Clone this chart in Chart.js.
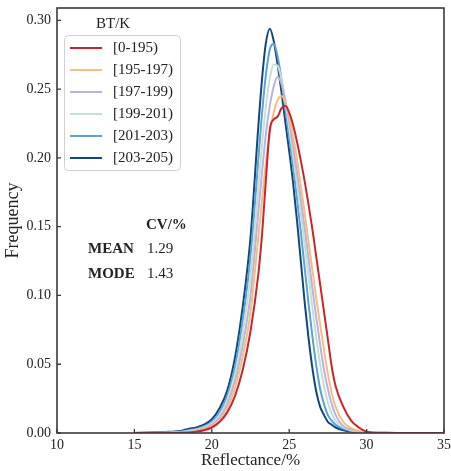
<!DOCTYPE html>
<html><head><meta charset="utf-8">
<script src="https://cdn.jsdelivr.net/npm/chart.js@4"></script>
<style>html,body{margin:0;padding:0;background:#fff}#wrap{width:451px;height:471px}</style>
</head><body><div id="wrap"><canvas id="c" width="451" height="471"></canvas></div>
<script>
const reflectance = [15,16,17,17.5,18,18.5,19,19.5,20,20.5,21,21.5,22,22.5,23,23.25,23.5,23.75,24,24.25,24.5,24.75,25,25.25,25.5,25.75,26,26.25,26.5,26.75,27,27.25,27.5,27.75,28,28.5,29,29.5,30,31,32,33,35];
const seriesLabels = ['[0-195)','[195-197)','[197-199)','[199-201)','[201-203)','[203-205)'];
const freq_0_195   = [0,0,0,0,0.0001,0.0004,0.001,0.002,0.004,0.008,0.015,0.027,0.046,0.074,0.115,0.145,0.185,0.221,0.228,0.230,0.236,0.238,0.233,0.224,0.212,0.198,0.183,0.166,0.148,0.128,0.108,0.088,0.068,0.048,0.034,0.019,0.009,0.004,0.001,0,0,0,0];
const freq_195_197 = [0,0,0,0.0001,0.0003,0.0008,0.0015,0.003,0.005,0.009,0.018,0.033,0.056,0.088,0.142,0.170,0.197,0.218,0.233,0.242,0.245,0.240,0.230,0.216,0.199,0.180,0.160,0.139,0.118,0.098,0.079,0.060,0.043,0.029,0.019,0.008,0.0035,0.0015,0.0007,0.0001,0,0,0];
const freq_197_199 = [0,0,0.0001,0.0002,0.0005,0.001,0.002,0.0035,0.006,0.011,0.021,0.038,0.064,0.100,0.160,0.190,0.218,0.238,0.252,0.259,0.254,0.242,0.227,0.209,0.190,0.170,0.149,0.127,0.105,0.084,0.064,0.046,0.032,0.021,0.013,0.005,0.0025,0.0012,0.0006,0.0001,0,0,0];
const freq_199_201 = [0,0,0.0002,0.0003,0.0007,0.0015,0.0025,0.004,0.007,0.013,0.024,0.043,0.073,0.115,0.178,0.210,0.238,0.258,0.268,0.267,0.257,0.241,0.222,0.202,0.182,0.160,0.137,0.114,0.091,0.069,0.050,0.034,0.022,0.014,0.009,0.004,0.002,0.001,0.0005,0.0001,0,0,0];
const freq_201_203 = [0,0,0.0003,0.0005,0.001,0.002,0.003,0.005,0.008,0.015,0.027,0.048,0.082,0.128,0.198,0.233,0.261,0.279,0.283,0.274,0.257,0.236,0.215,0.194,0.171,0.146,0.120,0.094,0.070,0.049,0.032,0.021,0.013,0.009,0.006,0.003,0.0015,0.0008,0.0004,0.0001,0,0,0];
const freq_203_205 = [0,0.0003,0.0008,0.001,0.0015,0.003,0.004,0.006,0.010,0.018,0.031,0.055,0.092,0.142,0.222,0.258,0.284,0.294,0.285,0.268,0.248,0.226,0.205,0.182,0.155,0.125,0.095,0.069,0.047,0.030,0.019,0.013,0.008,0.006,0.004,0.002,0.001,0.0006,0.0003,0.0001,0,0,0];
const seriesColors = ['#c8262f','#f5bd86','#bab4db','#c6dfd6','#5aa3d1','#12467f'];
const xTicks = [10,15,20,25,30,35];
const yTicks = [0,0.05,0.10,0.15,0.20,0.25,0.30];
const statHeader = 'CV/%';
const statNames = ['MEAN','MODE'];
const statValues = ['1.29','1.43'];

const allSeries = [freq_0_195,freq_195_197,freq_197_199,freq_199_201,freq_201_203,freq_203_205];
const SERIF = '"Liberation Serif","DejaVu Serif",serif';

const framePlugin = {
  id:'frame',
  afterDatasetsDraw(chart){
    const {ctx, chartArea:a, scales} = chart;
    ctx.save();
    ctx.strokeStyle = '#3a3a3a'; ctx.lineWidth = 1.3;
    ctx.beginPath();
    scales.x.ticks.forEach(t=>{const px=scales.x.getPixelForValue(t.value); ctx.moveTo(px,a.bottom); ctx.lineTo(px,a.bottom-4);});
    scales.y.ticks.forEach(t=>{const py=scales.y.getPixelForValue(t.value); ctx.moveTo(a.left,py); ctx.lineTo(a.left+4,py);});
    ctx.stroke();
    ctx.lineWidth = 1.6;
    ctx.strokeRect(a.left, a.top, a.right-a.left, a.bottom-a.top);
    const lx=64, ly=35, lw=116, lh=135;
    ctx.fillStyle='rgba(255,255,255,0.85)'; ctx.strokeStyle='#d0d0d0'; ctx.lineWidth=1;
    ctx.beginPath(); ctx.roundRect(lx+0.5,ly+0.5,lw,lh,4); ctx.fill(); ctx.stroke();
    ctx.fillStyle='#222'; ctx.font='15px '+SERIF; ctx.textBaseline='middle'; ctx.textAlign='left';
    ctx.fillText('BT/K', 96, 24);
    chart.data.datasets.forEach((ds,i)=>{
      const y = 48 + i*22;
      ctx.strokeStyle = ds.borderColor; ctx.lineWidth = 2;
      ctx.beginPath(); ctx.moveTo(70,y); ctx.lineTo(102,y); ctx.stroke();
      ctx.fillStyle='#222'; ctx.fillText(ds.label, 113, y);
    });
    ctx.font='bold 15px '+SERIF; ctx.fillText(statHeader, 146, 225);
    statNames.forEach((n,i)=>{
      const y = 249 + i*25;
      ctx.font='bold 15px '+SERIF; ctx.fillText(n, 88, y);
      ctx.font='15px '+SERIF; ctx.fillText(statValues[i], 147, y);
    });
    ctx.restore();
  }
};

new Chart(document.getElementById('c'), {
  type:'line',
  data:{
    datasets: allSeries.map((arr,i)=>({
      label: seriesLabels[i],
      data: reflectance.map((x,j)=>({x:x, y:arr[j]})),
      borderColor: seriesColors[i],
      borderWidth: 2,
      pointRadius: 0,
      fill:false,
      cubicInterpolationMode:'monotone'
    }))
  },
  options:{
    responsive:false, animation:false,
    layout:{padding:{left:0,right:7,top:8,bottom:0}},
    plugins:{legend:{display:false}, tooltip:{enabled:false}},
    scales:{
      x:{type:'linear', min:10, max:35,
        afterBuildTicks:s=>{s.ticks = xTicks.map(v=>({value:v}));},
        afterFit:s=>{s.height=38; s.paddingLeft=0; s.paddingRight=0;},
        grid:{display:false, drawTicks:false}, border:{display:false},
        ticks:{padding:4, color:'#222', font:{family:SERIF,size:14}, maxRotation:0, autoSkip:false},
        title:{display:true, text:'Reflectance/%', color:'#222', font:{family:SERIF,size:17}, padding:{top:0,bottom:0}}
      },
      y:{type:'linear', min:0, max:0.309,
        afterBuildTicks:s=>{s.ticks = yTicks.map(v=>({value:v}));},
        afterFit:s=>{s.width=57; s.paddingTop=0; s.paddingBottom=0;},
        grid:{display:false, drawTicks:false}, border:{display:false},
        ticks:{padding:6, color:'#222', font:{family:SERIF,size:14}, callback:v=>Number(v).toFixed(2), autoSkip:false},
        title:{display:true, text:'Frequency', color:'#222', font:{family:SERIF,size:18}, padding:{top:2,bottom:0}}
      }
    }
  },
  plugins:[framePlugin]
});
</script></body></html>
